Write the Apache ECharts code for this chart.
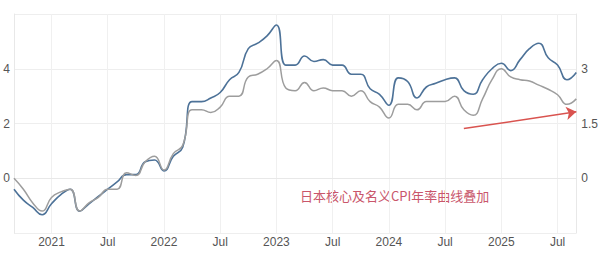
<!DOCTYPE html>
<html>
<head>
<meta charset="utf-8">
<script src="https://cdn.jsdelivr.net/npm/echarts@6/dist/echarts.min.js"></script>
<style>
html,body{margin:0;padding:0;background:#fff;}
#chart{width:601px;height:255px;}
</style>
</head>
<body>
<div id="chart"></div>
<script>
// Months (category axis)
var months = [
  '2020-09','2020-10','2020-11','2020-12',
  '2021-01','2021-02','2021-03','2021-04','2021-05','2021-06','2021-07','2021-08','2021-09','2021-10','2021-11','2021-12',
  '2022-01','2022-02','2022-03','2022-04','2022-05','2022-06','2022-07','2022-08','2022-09','2022-10','2022-11','2022-12',
  '2023-01','2023-02','2023-03','2023-04','2023-05','2023-06','2023-07','2023-08','2023-09','2023-10','2023-11','2023-12',
  '2024-01','2024-02','2024-03','2024-04','2024-05','2024-06','2024-07','2024-08','2024-09','2024-10','2024-11','2024-12',
  '2025-01','2025-02','2025-03','2025-04','2025-05','2025-06','2025-07','2025-08','2025-09'
];
// Headline CPI y/y (grey line, left axis)
var headline = [
  0.0,-0.4,-0.9,-1.2,
  -0.7,-0.5,-0.4,-1.2,-0.9,-0.7,-0.4,-0.4,0.2,0.1,0.6,0.8,
  0.3,0.9,1.2,2.5,2.5,2.4,2.6,3.0,3.0,3.7,3.8,4.0,
  4.3,3.3,3.2,3.5,3.2,3.3,3.2,3.2,3.0,3.2,2.8,2.6,
  2.2,2.7,2.7,2.5,2.8,2.8,2.8,3.0,2.5,2.3,2.9,3.6,
  4.0,3.7,3.6,3.55,3.4,3.25,3.05,2.7,2.9
];
// Core CPI y/y (blue line, right axis)
var core = [
  -0.3,-0.6,-0.8,-1.0,
  -0.7,-0.45,-0.3,-0.9,-0.7,-0.5,-0.3,-0.1,0.1,0.1,0.45,0.5,
  0.2,0.6,0.85,2.1,2.1,2.2,2.35,2.7,2.9,3.55,3.7,3.9,
  4.2,3.1,3.1,3.35,3.2,3.25,3.1,3.1,2.85,2.85,2.45,2.3,
  2.0,2.75,2.65,2.2,2.5,2.6,2.7,2.75,2.4,2.3,2.7,3.0,
  3.15,2.95,3.25,3.55,3.7,3.3,3.1,2.7,2.9
];
var leftTicks = [0, 2, 4];
var rightTicks = [0, 1.5, 3];
var annotationText = '日本核心及名义CPI年率曲线叠加';
// arrow annotation in (month index, right-axis value)
var arrowFrom = [48, 1.36];
var arrowTo = [60, 1.82];

function monthLabel(v) {
  var p = v.split('-');
  if (p[1] === '01') return p[0];
  if (p[1] === '07') return 'Jul';
  return '';
}
function isTickIdx(i) { return months[i].slice(5) === '01' || months[i].slice(5) === '07'; }

var chart = echarts.init(document.getElementById('chart'), null, {renderer: 'svg'});
chart.setOption({
  animation: false,
  backgroundColor: '#ffffff',
  grid: {left: 14, right: 21, top: 14, bottom: 22, containLabel: false},
  xAxis: {
    type: 'category',
    data: months,
    boundaryGap: false,
    axisLine: {show: true, lineStyle: {color: '#e8e8e8'}},
    axisTick: {show: false},
    axisLabel: {
      interval: function (i) { return isTickIdx(i); },
      formatter: monthLabel,
      color: '#555', fontSize: 12, fontFamily: 'Liberation Sans, Arial, sans-serif', margin: 3
    },
    splitLine: {show: true, interval: function (i) { return isTickIdx(i); }, lineStyle: {color: '#f0f0f0'}}
  },
  yAxis: [
    {
      type: 'value', min: -2, max: 6, interval: 2, position: 'left',
      axisLine: {show: true, lineStyle: {color: '#e8e8e8'}},
      axisTick: {show: false},
      splitLine: {show: true, lineStyle: {color: '#eeeeee'}},
      axisLabel: {
        color: '#555', fontSize: 12, fontFamily: 'Liberation Sans, Arial, sans-serif', margin: 4,
        formatter: function (v) { return leftTicks.indexOf(v) >= 0 ? String(v) : ''; }
      }
    },
    {
      type: 'value', min: -1.5, max: 4.5, interval: 1.5, position: 'right',
      axisLine: {show: true, lineStyle: {color: '#e8e8e8'}},
      axisTick: {show: false},
      splitLine: {show: false},
      axisLabel: {
        color: '#555', fontSize: 12, fontFamily: 'Liberation Sans, Arial, sans-serif', margin: 5,
        formatter: function (v) { return rightTicks.indexOf(v) >= 0 ? String(v) : ''; }
      }
    }
  ],
  graphic: [{
    type: 'text', left: 300, top: 189,
    style: {text: annotationText, fill: '#c9566b', font: '13px "Noto Sans CJK SC", sans-serif'}
  }],
  series: [
    {
      name: 'core', type: 'line', yAxisIndex: 1, data: core,
      smooth: 0.5, showSymbol: false, symbol: 'none',
      lineStyle: {color: '#4d7298', width: 1.6},
      itemStyle: {color: '#4d7298'},
      markLine: {
        silent: true, symbol: ['none', 'arrow'], symbolSize: 10,
        label: {show: false},
        lineStyle: {color: '#d9534f', width: 1.5, type: 'solid'},
        data: [[{coord: arrowFrom}, {coord: arrowTo}]]
      },
      z: 2
    },
    {
      name: 'headline', type: 'line', yAxisIndex: 0, data: headline,
      smooth: 0.5, showSymbol: false, symbol: 'none',
      lineStyle: {color: '#9d9d9d', width: 1.5},
      itemStyle: {color: '#9d9d9d'},
      z: 3
    }
  ]
});
</script>
</body>
</html>
